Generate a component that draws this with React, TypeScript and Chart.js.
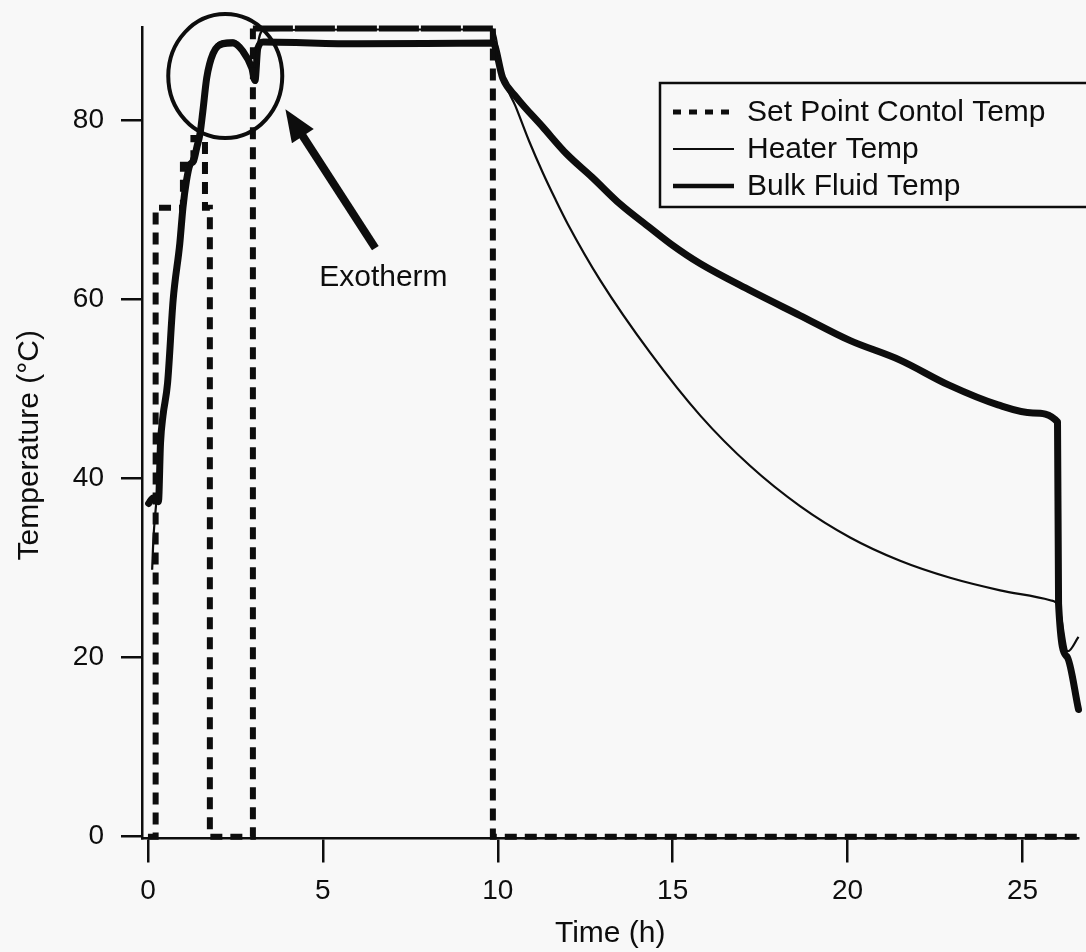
import React, { useEffect, useRef } from 'react';
import { Chart, registerables } from 'chart.js';

Chart.register(...registerables);

// ---------- data ----------
const xTicks = [0, 5, 10, 15, 20, 25];
const yTicks = [0, 20, 40, 60, 80];

const setPointTime = [0, 0.22, 1.0, 1.3, 1.63, 1.77, 3.0, 9.86, 9.86, 26.6];
const setPointTemp = [0, 70.2, 75, 78, 70.2, 0, 90.2, 90.2, 0, 0];

const heaterTime = [0.12, 0.16, 0.22, 0.3, 0.4, 0.56, 0.72, 0.91, 1.0, 1.1, 1.2, 1.4, 1.49, 1.57, 1.68, 1.86, 2.14, 2.43, 2.71, 2.97, 3.06, 3.14, 3.3, 6.0, 9.86, 10.14, 10.5, 10.9, 11.3, 11.64, 12.0, 12.93, 14.36, 15.79, 17.21, 18.64, 20.07, 21.5, 22.93, 24.36, 25.79, 26.03, 26.3, 26.6];
const heaterTemp = [29.8, 33.5, 36.5, 40, 46.5, 51, 60.3, 66.6, 70.5, 73.4, 75.2, 77.3, 78.8, 81.3, 85, 87.7, 88.8, 88.9, 88, 86.1, 84.7, 88.3, 90.0, 90.1, 90.1, 84.8, 81.6, 77.6, 74.0, 71.2, 68.4, 62.1, 54.0, 47.0, 41.4, 36.9, 33.4, 30.8, 28.9, 27.5, 26.4, 25.8, 20.7, 22.3];

const bulkTime = [0.02, 0.15, 0.3, 0.36, 0.43, 0.56, 0.72, 0.91, 1.0, 1.1, 1.2, 1.3, 1.4, 1.49, 1.57, 1.68, 1.86, 2.14, 2.43, 2.71, 2.97, 3.06, 3.14, 3.3, 6.0, 9.86, 10.14, 10.54, 11.29, 11.97, 12.7, 13.5, 14.34, 15.0, 15.77, 17.2, 18.63, 20.06, 21.5, 22.9, 24.3, 25.3, 26.0, 26.03, 26.27, 26.6];
const bulkTemp = [37.2, 37.8, 37.4, 44, 47, 50.6, 59.9, 66.2, 70.2, 73.2, 75, 75.4, 77, 78.5, 81, 84.7, 87.4, 88.5, 88.6, 87.7, 85.8, 84.4, 88, 88.7, 88.5, 88.6, 84.7, 82.5, 79.2, 76.2, 73.6, 70.6, 68.0, 66.0, 64.0, 61, 58.2, 55.4, 53.2, 50.4, 48.2, 47.3, 46.3, 26, 20.1, 14.2];

const seriesLabels = ['Set Point Contol Temp', 'Heater Temp', 'Bulk Fluid Temp'];
const annotationText = 'Exotherm';

// ---------- style ----------
const INK = '#0d0d0d';
const BG = '#f8f8f8';
const FAMILY = '"Liberation Sans", Arial, Helvetica, sans-serif';

// annotation anchors (data coordinates)
const circleAnchor = { x: 2.21, y: 84.9 };
const arrowTip = { x: 3.93, y: 81.2 };
const arrowTail = { x: 6.5, y: 65.7 };
const textAnchor = { x: 6.73, y: 62.4 };

const toPts = (xs: number[], ys: number[]) => xs.map((x, i) => ({ x, y: ys[i] }));

const decorPlugin = {
  id: 'decor',
  beforeDraw(chart: any) {
    const { ctx, width, height } = chart;
    ctx.save();
    ctx.fillStyle = BG;
    ctx.fillRect(0, 0, width, height);
    ctx.restore();
  },
  afterDraw(chart: any) {
    const { ctx } = chart;
    const xs = chart.scales.x;
    const ys = chart.scales.y;
    const px = (p: { x: number; y: number }) => ({ x: xs.getPixelForValue(p.x), y: ys.getPixelForValue(p.y) });
    ctx.save();
    ctx.strokeStyle = INK;
    ctx.fillStyle = INK;

    // circle around exotherm
    const c = px(circleAnchor);
    ctx.lineWidth = 4;
    ctx.beginPath();
    ctx.ellipse(c.x, c.y, 57, 62, 0, 0, Math.PI * 2);
    ctx.stroke();

    // arrow
    const tip = px(arrowTip);
    const tail = px(arrowTail);
    const dx = tip.x - tail.x;
    const dy = tip.y - tail.y;
    const len = Math.hypot(dx, dy);
    const ux = dx / len;
    const uy = dy / len;
    const headLen = 32;
    const headHalf = 13;
    const bx = tip.x - ux * headLen;
    const by = tip.y - uy * headLen;
    ctx.lineWidth = 8;
    ctx.lineCap = 'butt';
    ctx.beginPath();
    ctx.moveTo(tail.x, tail.y);
    ctx.lineTo(bx + ux * 4, by + uy * 4);
    ctx.stroke();
    ctx.beginPath();
    ctx.moveTo(tip.x, tip.y);
    ctx.lineTo(bx - uy * headHalf, by + ux * headHalf);
    ctx.lineTo(bx + uy * headHalf, by - ux * headHalf);
    ctx.closePath();
    ctx.fill();

    // text
    const t = px(textAnchor);
    ctx.font = `30px ${FAMILY}`;
    ctx.textAlign = 'center';
    ctx.textBaseline = 'middle';
    ctx.fillText(annotationText, t.x, t.y);

    // legend box
    const lx = 660;
    const ly = 83;
    ctx.lineWidth = 2.5;
    ctx.strokeRect(lx, ly, 460, 124);
    const rows = [112, 149, 186];
    ctx.textAlign = 'left';
    ctx.font = `30px ${FAMILY}`;
    rows.forEach((ry, i) => {
      ctx.beginPath();
      if (i === 0) {
        ctx.lineWidth = 5;
        ctx.setLineDash([8, 8]);
      } else if (i === 1) {
        ctx.lineWidth = 1.8;
        ctx.setLineDash([]);
      } else {
        ctx.lineWidth = 4.5;
        ctx.setLineDash([]);
      }
      ctx.moveTo(673, ry);
      ctx.lineTo(734, ry);
      ctx.stroke();
      ctx.setLineDash([]);
      ctx.fillText(seriesLabels[i], 747, ry + 1);
    });
    ctx.restore();
  },
};

export default function App() {
  const ref = useRef<HTMLCanvasElement>(null);
  useEffect(() => {
    const canvas = ref.current;
    if (!canvas) return;
    const tickFont = { family: FAMILY, size: 28 };
    const titleFont = { family: FAMILY, size: 30 };
    const chart = new Chart(canvas, {
      type: 'line',
      data: {
        datasets: [
          {
            label: seriesLabels[0],
            data: toPts(setPointTime, setPointTemp),
            borderColor: INK,
            borderWidth: 6,
            borderDash: [12, 8],
            stepped: true,
            pointRadius: 0,
            fill: false,
            clip: false,
            segment: {
              borderDash: (c: any) => (c.p0.parsed.y > 89 && c.p1.parsed.y > 89 ? [40, 2] : undefined),
            },
          },
          {
            label: seriesLabels[1],
            data: toPts(heaterTime, heaterTemp),
            borderColor: INK,
            borderWidth: 2.2,
            pointRadius: 0,
            fill: false,
            cubicInterpolationMode: 'monotone',
            clip: false,
          },
          {
            label: seriesLabels[2],
            data: toPts(bulkTime, bulkTemp),
            borderColor: INK,
            borderWidth: 7,
            borderJoinStyle: 'round',
            borderCapStyle: 'round',
            pointRadius: 0,
            fill: false,
            cubicInterpolationMode: 'monotone',
            clip: false,
          },
        ] as any,
      },
      options: {
        responsive: false,
        animation: false,
        devicePixelRatio: 1,
        layout: { padding: { left: 0, top: 27, right: 7.5, bottom: 0 } },
        plugins: { legend: { display: false }, tooltip: { enabled: false } },
        scales: {
          x: {
            type: 'linear',
            min: -0.17,
            max: 26.6,
            afterFit: (s: any) => {
              s.height = 113.5;
              s.paddingLeft = 0;
              s.paddingRight = 0;
            },
            afterBuildTicks: (s: any) => {
              s.ticks = xTicks.map((v) => ({ value: v }));
            },
            ticks: { font: tickFont, color: INK, padding: 12, maxRotation: 0, autoSkip: false },
            grid: { drawOnChartArea: false, drawTicks: true, tickLength: 24, color: INK, lineWidth: 2.5 },
            border: { display: true, color: INK, width: 2.5 },
            title: { display: true, text: 'Time (h)', font: titleFont, color: INK, padding: { top: 0, bottom: 0 } },
          },
          y: {
            type: 'linear',
            min: -0.2,
            max: 90.38,
            afterFit: (s: any) => {
              s.width = 142;
              s.paddingTop = 0;
              s.paddingBottom = 0;
            },
            afterBuildTicks: (s: any) => {
              s.ticks = yTicks.map((v) => ({ value: v }));
            },
            ticks: { font: tickFont, color: INK, padding: 17, autoSkip: false },
            grid: { drawOnChartArea: false, drawTicks: true, tickLength: 21, color: INK, lineWidth: 2.5 },
            border: { display: true, color: INK, width: 2.5 },
            title: { display: true, text: 'Temperature (°C)   ', font: titleFont, color: INK, padding: { top: 12, bottom: 0 } },
          },
        },
      } as any,
      plugins: [decorPlugin],
    });
    return () => chart.destroy();
  }, []);
  return (
    <div style={{ position: 'fixed', left: 0, top: 0, width: 1086, height: 952, background: BG, overflow: 'hidden' }}>
      <canvas ref={ref} width={1086} height={952} style={{ display: 'block', width: 1086, height: 952 }} />
    </div>
  );
}
